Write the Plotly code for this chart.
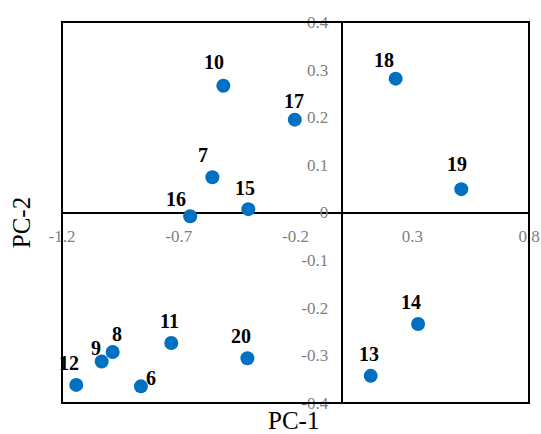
import plotly.graph_objects as go

# Data
labels = ["6", "7", "8", "9", "10", "11", "12", "13", "14", "15", "16", "17", "18", "19", "20"]
pc1 = [-0.862, -0.556, -0.983, -1.030, -0.509, -0.732, -1.139, 0.122, 0.325, -0.402, -0.651, -0.203, 0.229, 0.510, -0.406]
pc2 = [-0.365, 0.074, -0.293, -0.313, 0.266, -0.274, -0.362, -0.343, -0.234, 0.007, -0.008, 0.195, 0.281, 0.049, -0.306]

x_tickvals = [-1.2, -0.7, -0.2, 0.3, 0.8]
x_ticktext = ["-1.2", "-0.7", "-0.2", "0.3", "0.8"]
y_tickvals = [0.4, 0.3, 0.2, 0.1, 0.0, -0.1, -0.2, -0.3, -0.4]
y_ticktext = ["0.4", "0.3", "0.2", "0.1", "0", "-0.1", "-0.2", "-0.3", "-0.4"]

# label offsets in pixels (dx, dy-up) — styling only
label_offsets = {
    "6": (10, 8), "7": (-9, 22), "8": (4, 18), "9": (-6, 14), "10": (-9, 24),
    "11": (-2, 22), "12": (-7, 22), "13": (-2, 22), "14": (-7, 22), "15": (-3, 21),
    "16": (-14, 17), "17": (-1, 19), "18": (-12, 19), "19": (-4, 25), "20": (-6, 22),
}

SERIF = "Liberation Serif"

fig = go.Figure()
fig.add_trace(go.Scatter(
    x=pc1, y=pc2, mode="markers",
    marker=dict(size=14, color="#0070C0"),
    hoverinfo="skip", showlegend=False,
))

annotations = []
for lab, xv, yv in zip(labels, pc1, pc2):
    dx, dy = label_offsets[lab]
    annotations.append(dict(
        x=xv, y=yv, xref="x", yref="y", text=f"<b>{lab}</b>", showarrow=False,
        xshift=dx, yshift=dy, xanchor="center", yanchor="middle",
        font=dict(family=SERIF, size=20, color="black"),
    ))

annotations.append(dict(x=0.495, y=-0.047, xref="paper", yref="paper", text="PC-1",
                        showarrow=False, xanchor="center", yanchor="middle",
                        font=dict(family=SERIF, size=25, color="black")))
annotations.append(dict(x=-0.086, y=0.474, xref="paper", yref="paper", text="PC-2",
                        showarrow=False, xanchor="center", yanchor="middle", textangle=-90,
                        font=dict(family=SERIF, size=25, color="black")))

fig.update_layout(
    width=541, height=434, autosize=False,
    margin=dict(l=62, r=12, t=22, b=31),
    paper_bgcolor="white", plot_bgcolor="white",
    font=dict(family=SERIF),
    annotations=annotations,
    shapes=[dict(type="rect", xref="paper", yref="paper", x0=0, y0=0, x1=1, y1=1,
                 line=dict(color="black", width=2), layer="above")],
    xaxis=dict(
        range=[-1.2, 0.8], showgrid=False, showline=False, automargin=False,
        zeroline=True, zerolinecolor="black", zerolinewidth=1.5,
        tickvals=x_tickvals, ticktext=x_ticktext, ticks="",
        anchor="free", position=0.5, ticklabelstandoff=11,
        tickfont=dict(family=SERIF, size=17, color="#7f7f7f"),
    ),
    yaxis=dict(
        range=[-0.4, 0.4], showgrid=False, showline=False, automargin=False,
        zeroline=True, zerolinecolor="black", zerolinewidth=1.5,
        tickvals=y_tickvals, ticktext=y_ticktext, ticks="",
        anchor="free", position=0.6, ticklabelstandoff=14,
        tickfont=dict(family=SERIF, size=17, color="#7f7f7f"),
    ),
)

fig.write_html(
    "out.html",
    config={"responsive": False, "displayModeBar": False},
    post_script="document.body.style.margin='0';document.body.style.overflow='hidden';",
)
